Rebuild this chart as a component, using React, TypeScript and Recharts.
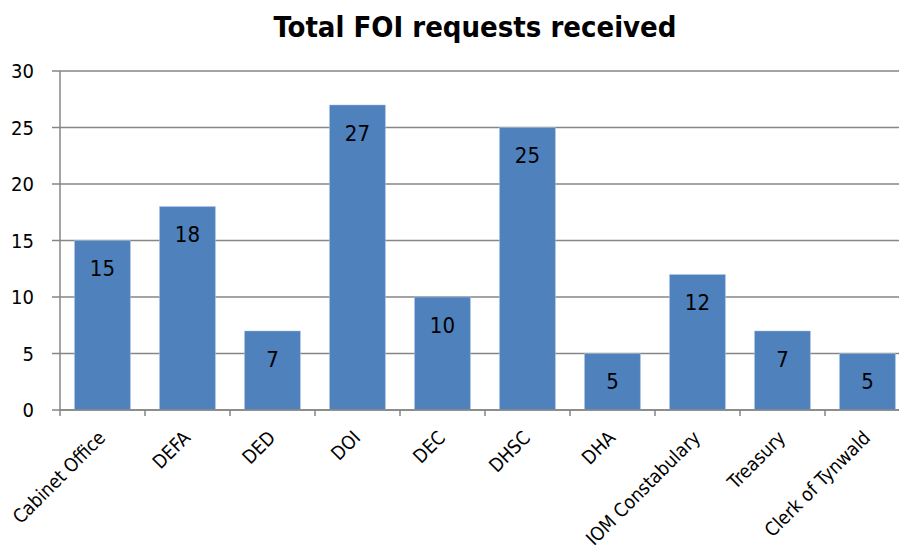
import React from "react";
import { BarChart, Bar, XAxis, YAxis, CartesianGrid, LabelList } from "recharts";

const departments = [
  "Cabinet Office",
  "DEFA",
  "DED",
  "DOI",
  "DEC",
  "DHSC",
  "DHA",
  "IOM Constabulary",
  "Treasury",
  "Clerk of Tynwald",
];
const requests = [15, 18, 7, 27, 10, 25, 5, 12, 7, 5];
const yTicks = [0, 5, 10, 15, 20, 25, 30];

const data = departments.map((name, i) => ({ name, value: requests[i] }));

const FONT = "'DejaVu Sans Condensed', 'DejaVu Sans', sans-serif";
const CHART_W = 920;
const CHART_H = 545;
const LEFT = 60;
const RIGHT_MARGIN = 10;
const BAND = (CHART_W - LEFT - RIGHT_MARGIN) / departments.length;

const XTick = (props: any) => {
  const { x, y, payload } = props;
  return (
    <g>
      <line x1={x - BAND / 2} x2={x - BAND / 2} y1={y - 6} y2={y} stroke="#868686" strokeWidth={1.5} />
      <text
        transform={`translate(${x + 4},${y + 23}) rotate(-45)`}
        textAnchor="end"
        fontFamily={FONT}
        fontSize={19}
        fill="#000"
      >
        {payload.value}
      </text>
    </g>
  );
};

export default function App() {
  return (
    <div
      style={{
        position: "fixed",
        top: 0,
        left: 0,
        width: 899,
        height: 545,
        overflow: "hidden",
        background: "#fff",
      }}
    >
      <div
        style={{
          position: "absolute",
          top: 10,
          left: 0,
          width: 950,
          textAlign: "center",
          fontFamily: FONT,
          fontWeight: "bold",
          fontSize: 29,
          color: "#000",
        }}
      >
        Total FOI requests received
      </div>
      <BarChart
        width={CHART_W}
        height={CHART_H}
        data={data}
        margin={{ top: 71, right: RIGHT_MARGIN, left: 0, bottom: 0 }}
        barCategoryGap="17%"
      >
        <CartesianGrid vertical={false} stroke="#868686" strokeWidth={1.5} />
        <XAxis
          dataKey="name"
          height={135}
          interval={0}
          axisLine={{ stroke: "#868686", strokeWidth: 1.5 }}
          tickLine={false}
          tickSize={6}
          tickMargin={0}
          tick={<XTick />}
        />
        <YAxis
          width={LEFT}
          domain={[0, 30]}
          ticks={yTicks}
          interval={0}
          axisLine={{ stroke: "#868686", strokeWidth: 1.5 }}
          tickLine={{ stroke: "#868686", strokeWidth: 1.5 }}
          tickSize={8}
          tickMargin={18}
          tick={{ fontFamily: FONT, fontSize: 20, fill: "#000" }}
        />
        <Bar dataKey="value" fill="#4F81BD" stroke="#B9CDE5" strokeWidth={0.5} isAnimationActive={false}>
          <LabelList
            dataKey="value"
            position="insideTop"
            offset={20}
            fontFamily={FONT}
            fontSize={22}
            fill="#000"
          />
        </Bar>
      </BarChart>
    </div>
  );
}
